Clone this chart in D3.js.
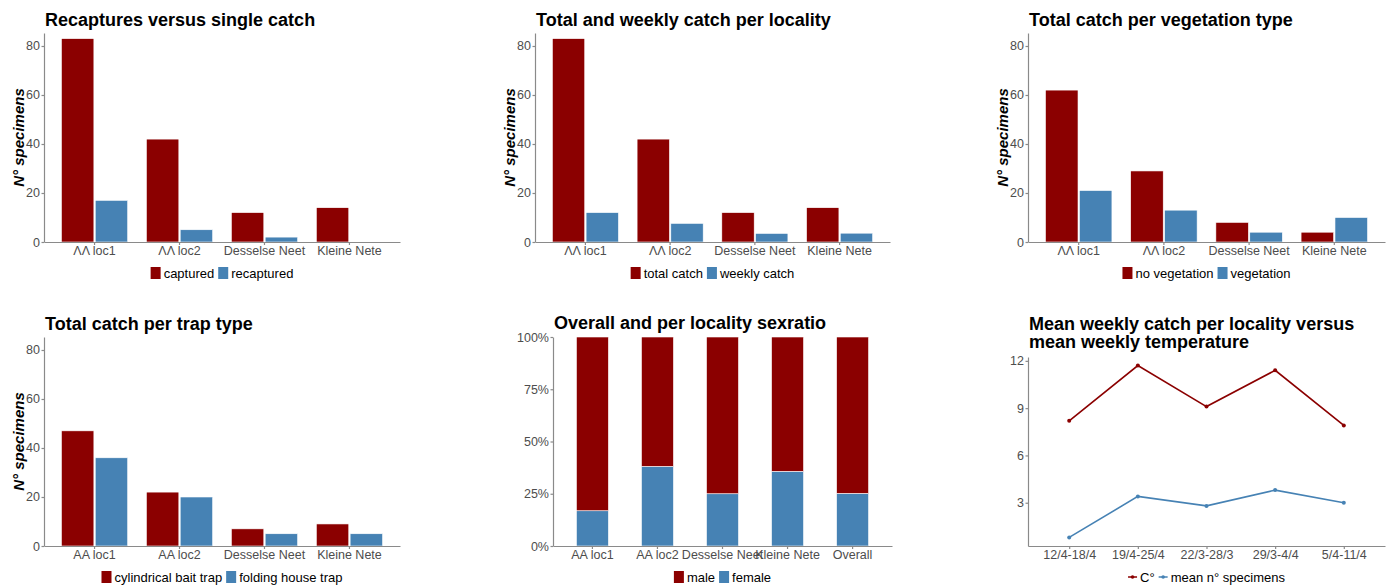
<!DOCTYPE html>
<html>
<head>
<meta charset="utf-8">
<script src="https://cdn.jsdelivr.net/npm/d3@7"></script>
<style>
body { margin: 0; background: #fff; }
svg { font-family: "Liberation Sans", Arial, sans-serif; }
.title { font-size: 18px; font-weight: bold; fill: #000; }
.ytitle { font-size: 15px; font-weight: bold; font-style: italic; fill: #000; }
.axis text { font-size: 12.5px; fill: #4d4d4d; font-family: "Liberation Sans", Arial, sans-serif; }
.axis path, .axis line { stroke: #8a8a8a; stroke-width: 1.2; }
.legend text { font-size: 13px; fill: #000; }
</style>
</head>
<body>
<svg id="chart" width="1394" height="586"></svg>
<script>
// Data
var localitiesTop = ["ΛΛ loc1", "ΛΛ loc2", "Desselse Neet", "Kleine Nete"];
var localities = ["AA loc1", "AA loc2", "Desselse Neet", "Kleine Nete"];
var sexCategories = ["AA loc1", "AA loc2", "Desselse Neet", "Kleine Nete", "Overall"];
var weeks = ["12/4-18/4", "19/4-25/4", "22/3-28/3", "29/3-4/4", "5/4-11/4"];

var captured = [83, 42, 12, 14];
var recaptured = [17, 5, 2, 0];
var totalCatch = [83, 42, 12, 14];
var weeklyCatch = [12, 7.6, 3.5, 3.6];
var noVegetation = [62, 29, 8, 4];
var vegetation = [21, 13, 4, 10];
var baitTrap = [47, 22, 7, 9];
var foldingTrap = [36, 20, 5, 5];
var male = [69, 26, 9, 9, 113];
var female = [14, 16, 3, 5, 38];
var temperature = [8.2, 11.7, 9.1, 11.4, 7.9];
var meanSpecimens = [0.8, 3.4, 2.8, 3.8, 3.0];

var countTicks = [0, 20, 40, 60, 80];
var percentTicks = [0, 0.25, 0.5, 0.75, 1];
var lineTicks = [3, 6, 9, 12];

var red = "#8B0000", blue = "#4682B4";
var countMax = 85.3;

var svg = d3.select("#chart");

function drawTitle(lines, x, y) {
  var t = svg.append("text").attr("class", "title").attr("x", x).attr("y", y);
  lines.forEach(function(l, i) {
    t.append("tspan").attr("x", x).attr("dy", i ? 18 : 0).text(l);
  });
}

function yTitle(x, yMid) {
  svg.append("text")
    .attr("class", "ytitle")
    .attr("transform", "translate(" + x + "," + yMid + ") rotate(-90)")
    .attr("text-anchor", "middle")
    .text("N° specimens");
}

// legend centred on the panel, keys either "rect" or "line"
function legend(items, cx, cy, kind) {
  var g = svg.append("g").attr("class", "legend");
  var pos = 0;
  items.forEach(function(it, i) {
    var ig = g.append("g").attr("transform", "translate(" + pos + ",0)");
    var kw;
    if (kind == "line") {
      kw = 9;
      ig.append("line").attr("x1", 0).attr("x2", kw).attr("y1", 0).attr("y2", 0)
        .attr("stroke", it.color).attr("stroke-width", 1.5);
      ig.append("circle").attr("cx", kw / 2).attr("cy", 0).attr("r", 1.8).attr("fill", it.color);
    } else {
      kw = 10;
      ig.append("rect").attr("x", 0).attr("y", -6).attr("width", kw).attr("height", 12).attr("fill", it.color);
    }
    var t = ig.append("text").attr("x", kw + 3).attr("y", 4.6).text(it.name);
    pos += kw + 3 + t.node().getComputedTextLength() + 4;
  });
  var w = pos - 4;
  g.attr("transform", "translate(" + (cx - w / 2) + "," + cy + ")");
}

function styleAxes(g) {
  g.selectAll(".tick line").attr("stroke", "#8a8a8a");
}

function groupedBars(p) {
  var names = p.series.map(function(s) { return s.name; });
  var x0 = d3.scaleBand().domain(p.cats).range([p.left, p.right])
    .paddingInner(0.22).paddingOuter(0.205);
  var x1 = d3.scaleBand().domain(names).range([0, x0.bandwidth()]).paddingInner(0.04);
  var y = d3.scaleLinear().domain([0, countMax]).range([p.bottom, p.top]);
  var color = d3.scaleOrdinal().domain(names).range(p.series.map(function(s) { return s.color; }));

  var groups = svg.append("g").selectAll("g")
    .data(p.cats)
    .enter().append("g")
    .attr("transform", function(d) { return "translate(" + x0(d) + ",0)"; });

  groups.selectAll("rect")
    .data(function(d, i) {
      return p.series.map(function(s) { return { name: s.name, value: s.values[i] }; });
    })
    .enter().append("rect")
    .attr("x", function(d) { return x1(d.name); })
    .attr("width", x1.bandwidth())
    .attr("y", function(d) { return y(d.value); })
    .attr("height", function(d) { return y(0) - y(d.value); })
    .attr("fill", function(d) { return color(d.name); })
    .attr("stroke", function(d) { return d.value > 0 ? "#fff" : "none"; })
    .attr("stroke-width", 0.6);

  var ya = svg.append("g").attr("class", "axis")
    .attr("transform", "translate(" + p.left + ",0)")
    .call(d3.axisLeft(y).tickValues(countTicks).tickSize(2.5).tickSizeOuter(0).tickPadding(1.5));
  styleAxes(ya);
  var xa = svg.append("g").attr("class", "axis")
    .attr("transform", "translate(0," + p.bottom + ")")
    .call(d3.axisBottom(x0).tickSize(3).tickSizeOuter(0).tickPadding(1));
  styleAxes(xa);

  drawTitle([p.title], p.left + 1, p.top - 7);
  yTitle(p.left - 20, (p.top + p.bottom) / 2);
  legend(p.series, (p.left + p.right) / 2, p.legendY);
}

groupedBars({
  cats: localitiesTop, left: 44, right: 400, top: 33, bottom: 242, legendY: 273,
  title: "Recaptures versus single catch",
  series: [{ name: "captured", values: captured, color: red },
           { name: "recaptured", values: recaptured, color: blue }]
});
groupedBars({
  cats: localitiesTop, left: 535, right: 890, top: 33, bottom: 242, legendY: 273,
  title: "Total and weekly catch per locality",
  series: [{ name: "total catch", values: totalCatch, color: red },
           { name: "weekly catch", values: weeklyCatch, color: blue }]
});
groupedBars({
  cats: localitiesTop, left: 1028, right: 1385, top: 33, bottom: 242, legendY: 273,
  title: "Total catch per vegetation type",
  series: [{ name: "no vegetation", values: noVegetation, color: red },
           { name: "vegetation", values: vegetation, color: blue }]
});
groupedBars({
  cats: localities, left: 44, right: 400, top: 337, bottom: 546, legendY: 577,
  title: "Total catch per trap type",
  series: [{ name: "cylindrical bait trap", values: baitTrap, color: red },
           { name: "folding house trap", values: foldingTrap, color: blue }]
});

// Sex ratio, stacked to 100%
(function() {
  var left = 553, right = 892, top = 337, bottom = 546;
  var rows = sexCategories.map(function(c, i) {
    return { cat: c, female: female[i], male: male[i] };
  });
  var stack = d3.stack().keys(["female", "male"]).offset(d3.stackOffsetExpand)(rows);
  var x = d3.scaleBand().domain(sexCategories).range([left, right])
    .paddingInner(0.508).paddingOuter(0.36);
  var y = d3.scaleLinear().domain([0, 1]).range([bottom, top]);
  var color = { female: blue, male: red };

  svg.append("g").selectAll("g")
    .data(stack)
    .enter().append("g")
    .attr("fill", function(d) { return color[d.key]; })
    .selectAll("rect")
    .data(function(d) { return d; })
    .enter().append("rect")
    .attr("x", function(d) { return x(d.data.cat); })
    .attr("width", x.bandwidth())
    .attr("y", function(d) { return y(d[1]); })
    .attr("height", function(d) { return y(d[0]) - y(d[1]); })
    .attr("stroke", "#fff").attr("stroke-width", 0.6);

  var ya = svg.append("g").attr("class", "axis")
    .attr("transform", "translate(" + left + ",0)")
    .call(d3.axisLeft(y).tickValues(percentTicks).tickFormat(d3.format(".0%"))
      .tickSize(2.5).tickSizeOuter(0).tickPadding(1.5));
  styleAxes(ya);
  var xa = svg.append("g").attr("class", "axis")
    .attr("transform", "translate(0," + bottom + ")")
    .call(d3.axisBottom(x).tickSize(3).tickSizeOuter(0).tickPadding(1));
  styleAxes(xa);

  drawTitle(["Overall and per locality sexratio"], 554, 329);
  legend([{ name: "male", color: red }, { name: "female", color: blue }], (left + right) / 2, 577);
})();

// Weekly catch vs temperature
(function() {
  var left = 1028, right = 1385, top = 357, bottom = 546;
  var x = d3.scalePoint().domain(weeks).range([left, right]).padding(0.6);
  var y = d3.scaleLinear().domain([0.255, 12.245]).range([bottom, top]);
  var series = [{ name: "C°", values: temperature, color: red },
                { name: "mean n° specimens", values: meanSpecimens, color: blue }];
  var line = d3.line()
    .x(function(d, i) { return x(weeks[i]); })
    .y(function(d) { return y(d); });

  series.forEach(function(s) {
    svg.append("path").datum(s.values)
      .attr("d", line).attr("fill", "none")
      .attr("stroke", s.color).attr("stroke-width", 1.6);
    svg.append("g").selectAll("circle")
      .data(s.values).enter().append("circle")
      .attr("cx", function(d, i) { return x(weeks[i]); })
      .attr("cy", function(d) { return y(d); })
      .attr("r", 2).attr("fill", s.color);
  });

  var ya = svg.append("g").attr("class", "axis")
    .attr("transform", "translate(" + left + ",0)")
    .call(d3.axisLeft(y).tickValues(lineTicks).tickSize(2.5).tickSizeOuter(0).tickPadding(1.5));
  styleAxes(ya);
  var xa = svg.append("g").attr("class", "axis")
    .attr("transform", "translate(0," + bottom + ")")
    .call(d3.axisBottom(x).tickSize(3).tickSizeOuter(0).tickPadding(1));
  styleAxes(xa);

  drawTitle(["Mean weekly catch per locality versus", "mean weekly temperature"], 1029, 330);
  legend(series, (left + right) / 2, 577, "line");
})();
</script>
</body>
</html>
